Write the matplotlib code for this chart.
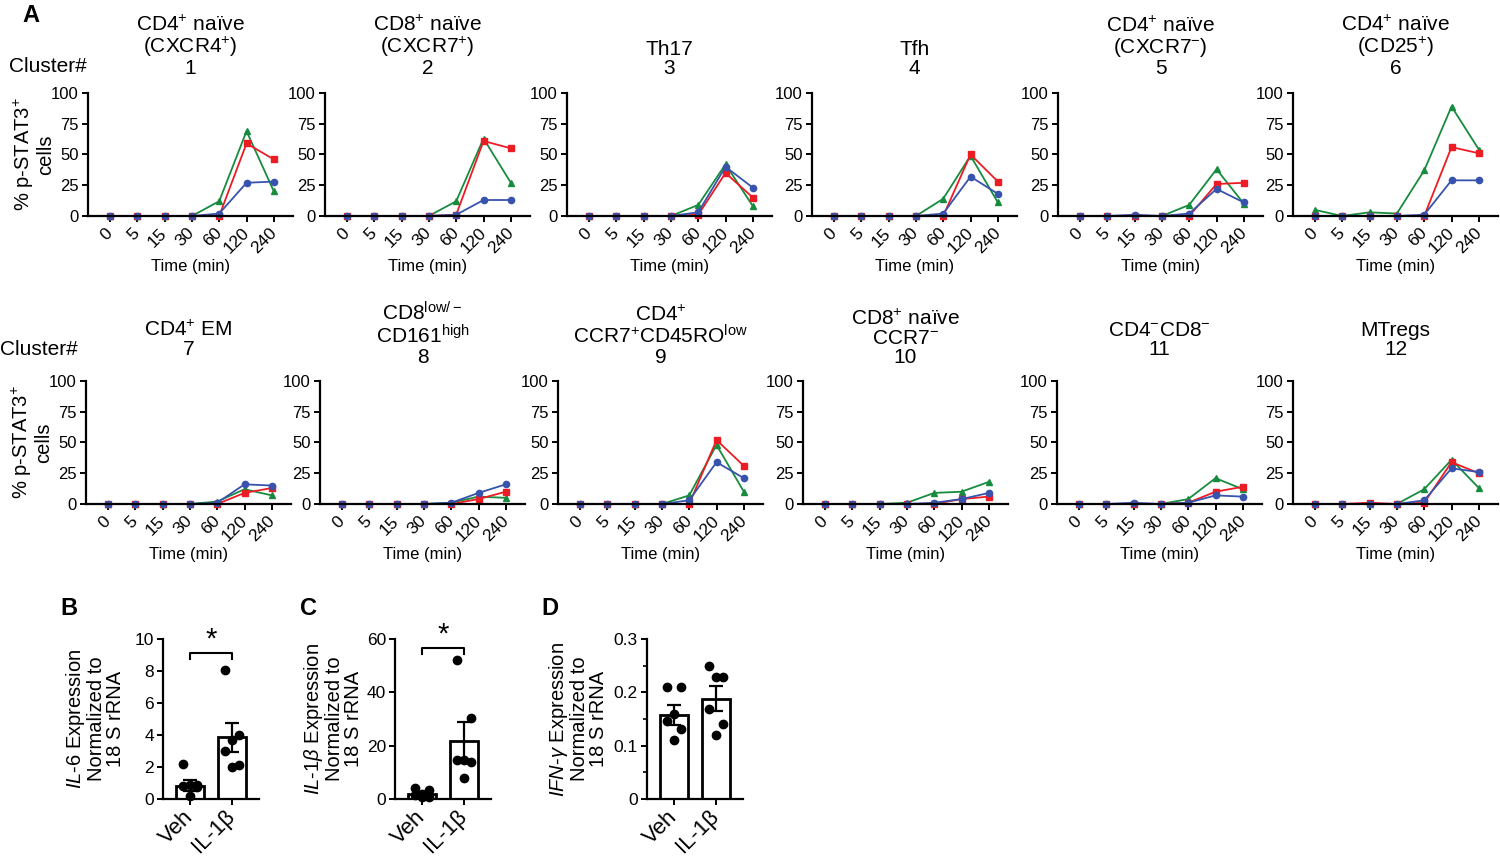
import numpy as np
import matplotlib
matplotlib.use("Agg")
import matplotlib.pyplot as plt

plt.rcParams["font.family"] = ["Liberation Sans", "DejaVu Sans"]
plt.rcParams["mathtext.fontset"] = "custom"
plt.rcParams["mathtext.rm"] = "Liberation Sans"
plt.rcParams["mathtext.it"] = "Liberation Sans:italic"
plt.rcParams["mathtext.bf"] = "Liberation Sans:bold"
plt.rcParams["mathtext.default"] = "regular"

# ---- panel A data: % p-STAT3+ cells per cluster over time ----
times = ["0", "5", "15", "30", "60", "120", "240"]

titles = [
    "CD4$^{+}$ naïve\n(CXCR4$^{+}$)\n1",
    "CD8$^{+}$ naïve\n(CXCR7$^{+}$)\n2",
    "Th17\n3",
    "Tfh\n4",
    "CD4$^{+}$ naïve\n(CXCR7$^{-}$)\n5",
    "CD4$^{+}$ naïve\n(CD25$^{+}$)\n6",
    "CD4$^{+}$ EM\n7",
    "CD8$^{low/-}$\nCD161$^{high}$\n8",
    "CD4$^{+}$\nCCR7$^{+}$CD45RO$^{low}$\n9",
    "CD8$^{+}$ naïve\nCCR7$^{-}$\n10",
    "CD4$^{-}$CD8$^{-}$\n11",
    "MTregs\n12",
]

red_series = [
    [0, 0, 0, 0, 0, 59, 46],
    [0, 0, 0, 0, 1, 61, 55],
    [0, 0, 0, 0, 1, 35, 15],
    [0, 0, 0, 0, 0, 50, 28],
    [0, 0, 0, 0, 0, 26, 27],
    [0, 0, 0, 0, 0, 56, 51],
    [0, 0, 0, 0, 0, 9, 13],
    [0, 0, 0, 0, 0, 4, 10],
    [0, 0, 0, 0, 0, 52, 31],
    [0, 0, 0, 0, 0, 4, 6],
    [0, 0, 0, 0, 1, 10, 14],
    [0, 0, 1, 0, 1, 34, 25],
]
green_series = [
    [0, 0, 0, 0, 12, 69, 20],
    [0, 0, 0, 0, 12, 63, 27],
    [0, 0, 0, 0, 9, 42, 8],
    [0, 0, 0, 0, 14, 49, 11],
    [0, 0, 0, 0, 9, 38, 10],
    [5, 0, 3, 2, 37, 89, 54],
    [0, 0, 0, 0, 2, 12, 7],
    [0, 0, 0, 0, 1, 6, 5],
    [0, 0, 0, 0, 7, 48, 10],
    [0, 0, 0, 1, 9, 10, 18],
    [0, 0, 0, 0, 4, 21, 12],
    [0, 0, 0, 0, 12, 36, 13],
]
blue_series = [
    [0, 0, 0, 0, 2, 27, 28],
    [0, 0, 0, 0, 1, 13, 13],
    [0, 0, 0, 0, 3, 40, 23],
    [0, 0, 0, 0, 2, 32, 18],
    [0, 0, 1, 0, 2, 22, 11],
    [0, 0, 0, 0, 1, 29, 29],
    [0, 0, 0, 0, 1, 16, 15],
    [0, 0, 0, 0, 1, 9, 16],
    [0, 0, 0, 0, 3, 34, 21],
    [0, 0, 0, 0, 1, 4, 9],
    [0, 0, 1, 0, 1, 7, 6],
    [0, 0, 0, 0, 3, 29, 26],
]

# ---- panels B-D data: qPCR expression ----
groups = ["Veh", "IL-1β"]
il6_mean = [0.83, 3.85]
il6_sem = [0.35, 0.9]
il6_pts = [[2.2, 0.9, 0.85, 0.8, 0.75, 0.2], [8.05, 4.0, 3.7, 3.0, 2.1, 2.0]]
il1b_mean = [2.0, 21.6]
il1b_sem = [0.6, 7.1]
il1b_pts = [[4.3, 3.3, 2.0, 1.5, 0.9, 0.7], [52.3, 30.4, 14.5, 14.5, 14.0, 7.9]]
ifng_mean = [0.158, 0.188]
ifng_sem = [0.019, 0.023]
ifng_pts = [[0.21, 0.21, 0.16, 0.146, 0.131, 0.11], [0.25, 0.229, 0.229, 0.168, 0.14, 0.12]]

RED = "#ec1c24"
GREEN = "#178c3f"
BLUE = "#3753ad"

W, H = 1500, 856
fig = plt.figure(figsize=(15, 8.56), dpi=100)


def px_axes(left, top, width, height):
    return fig.add_axes([left / W, 1 - (top + height) / H, width / W, height / H])


def style_axes(ax, tick_size):
    for side in ["top", "right"]:
        ax.spines[side].set_visible(False)
    for side in ["left", "bottom"]:
        ax.spines[side].set_linewidth(1.6)
    ax.tick_params(width=1.4, length=4.5, labelsize=tick_size, pad=2)


row_lefts = [[88, 325, 567, 812, 1058, 1293], [86, 320, 558, 803, 1057, 1293]]
row_tops = [93, 381]
x = np.arange(len(times))

for i in range(12):
    r, c = divmod(i, 6)
    ax = px_axes(row_lefts[r][c], row_tops[r], 205, 123)
    style_axes(ax, 12)
    for vals, color, marker in [(green_series[i], GREEN, "^"),
                                (red_series[i], RED, "s"),
                                (blue_series[i], BLUE, "o")]:
        ax.plot(x, vals, color=color, marker=marker, ms=4.5, lw=1.3, clip_on=False)
    ax.set_xlim(-0.8, 6.7)
    ax.set_ylim(0, 100)
    ax.set_yticks([0, 25, 50, 75, 100])
    ax.set_xticks(x)
    ax.set_xticklabels(times, rotation=45, ha="right", va="center", rotation_mode="anchor",
                       fontsize=12.5)
    ax.tick_params(axis="x", pad=6)
    ax.set_xlabel("Time (min)", fontsize=12, labelpad=2)
    nlines = titles[i].count("\n") + 1
    if r == 0:
        pad = 13.5
    else:
        pad = 13 if nlines == 3 else 18.5
    ax.set_title(titles[i], fontsize=15, linespacing=1.0, pad=pad)
    if c == 0:
        ax.set_ylabel("% p-STAT3$^{+}$\ncells", fontsize=14.5, linespacing=1.0)
        ax.yaxis.set_label_coords(-0.16, 0.5)

fig.text(9 / W, 1 - 72 / H, "Cluster#", fontsize=15, va="baseline")
fig.text(0 / W, 1 - 355 / H, "Cluster#", fontsize=15, va="baseline")


def bar_panel(left, means, sems, pts, ylim, yticks, ylabel, label_x, minor=None, star_y=None):
    ax = px_axes(left, 639, 96, 160)
    style_axes(ax, 12.5)
    pos = np.arange(len(groups))
    ax.bar(pos, means, width=0.65, color="white", edgecolor="black", lw=2, zorder=2)
    ax.errorbar(pos, means, yerr=sems, fmt="none", ecolor="black", elinewidth=1.6,
                capsize=5, capthick=1.6, zorder=3)
    offs = [-0.17, 0.17, 0.0, -0.17, 0.17, 0.0]
    for k, p in enumerate(pts):
        ax.plot(pos[k] + np.array(offs[:len(p)]), p, "o", color="black", ms=6,
                zorder=4, clip_on=False)
    ax.set_xlim(-0.64, 1.64)
    ax.set_ylim(*ylim)
    ax.set_yticks(yticks)
    if minor is not None:
        ax.set_yticks(minor, minor=True)
        ax.tick_params(axis="y", which="minor", length=3, width=1.2)
    ax.set_xticks(pos)
    ax.set_xticklabels(groups, rotation=45, ha="right", va="center",
                       rotation_mode="anchor", fontsize=16)
    ax.tick_params(axis="x", pad=6)
    ax.set_ylabel(ylabel, fontsize=14.5, linespacing=1.0)
    ax.yaxis.set_label_coords(label_x, 0.5)
    if star_y is not None:
        top, drop = star_y
        ax.plot([0, 0, 1, 1], [top - drop, top, top, top - drop], color="black",
                lw=1.5, clip_on=False)
        ax.text(0.5, top, "*", ha="center", va="bottom", fontsize=21)
    return ax


bar_panel(163, il6_mean, il6_sem, il6_pts, (0, 10), [0, 2, 4, 6, 8, 10],
          "$\\mathit{IL}$-$\\mathit{6}$ Expression\nNormalized to\n18 S rRNA", -0.40,
          star_y=(9.1, 0.35))
bar_panel(395, il1b_mean, il1b_sem, il1b_pts, (0, 60), [0, 20, 40, 60],
          "$\\mathit{IL}$-$\\mathit{1β}$ Expression\nNormalized to\n18 S rRNA", -0.33,
          star_y=(56.5, 2.0))
bar_panel(647, ifng_mean, ifng_sem, ifng_pts, (0, 0.3), [0, 0.1, 0.2, 0.3],
          "$\\mathit{IFN}$-$\\mathit{γ}$ Expression\nNormalized to\n18 S rRNA", -0.41,
          minor=[0.05, 0.15, 0.25])
fig.axes[-1].set_yticklabels(["0", "0.1", "0.2", "0.3"])

for letter, lx, ly in [("A", 22, 22), ("B", 60, 615), ("C", 300, 615), ("D", 541, 615)]:
    fig.text(lx / W, 1 - ly / H, letter, fontsize=17, fontweight="bold", va="baseline")

fig.savefig("out.png", dpi=100)
